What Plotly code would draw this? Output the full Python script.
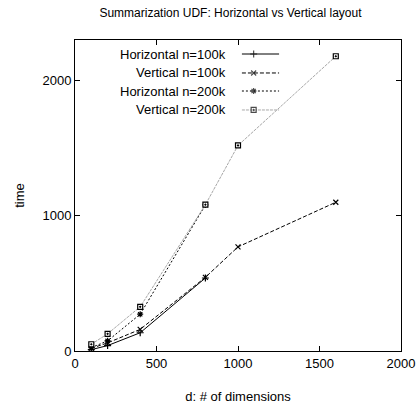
import plotly.graph_objects as go

# ---- data ----
d_short = [100, 200, 400, 800]
d_long = [100, 200, 400, 800, 1000, 1600]
horiz_100k = [10, 40, 135, 540]
vert_100k = [20, 60, 160, 545, 770, 1100]
horiz_200k = [25, 75, 272, 1080]
vert_200k = [50, 127, 327, 1082, 1520, 2180]

names = ["Horizontal n=100k", "Vertical n=100k", "Horizontal n=200k", "Vertical n=200k"]
xs = [d_short, d_long, d_short, d_long]
ys = [horiz_100k, vert_100k, horiz_200k, vert_200k]

styles = [
    dict(color="black", dash="solid", symbol="cross-thin-open", msize=5),
    dict(color="black", dash="4px,2px", symbol="x-thin-open", msize=5),
    dict(color="black", dash="2px,2px", symbol="asterisk-open", msize=5),
    dict(color="#a8a8a8", dash="3px,1px", symbol="square-dot", msize=5),
]

FONT = "Liberation Sans, Arial, sans-serif"

fig = go.Figure()
for name, x, y, s in zip(names, xs, ys, styles):
    fig.add_trace(go.Scatter(
        x=x, y=y, mode="lines+markers", name=name, showlegend=False,
        line=dict(color=s["color"], dash=s["dash"], width=1),
        marker=dict(symbol=s["symbol"], size=s["msize"], color="white" if "square" in s["symbol"] else "black",
                    line=dict(color="black", width=1.2)),
    ))

# ---- gnuplot-style key (text right-aligned, sample to the right) ----
key_text_x = 0.469
key_line = [0.512, 0.548, 0.626]
key_rows = [0.955, 0.894, 0.836, 0.775]
for name, s, ky in zip(names, styles, key_rows):
    fig.add_trace(go.Scatter(
        x=key_line, y=[ky] * 3, xaxis="x2", yaxis="y2", mode="lines+markers",
        showlegend=False, hoverinfo="skip",
        line=dict(color=s["color"], dash=s["dash"], width=1),
        marker=dict(symbol=s["symbol"], size=[0, s["msize"], 0],
                    color="white" if "square" in s["symbol"] else "black",
                    line=dict(color="black", width=[0, 1.2, 0])),
    ))
    fig.add_annotation(x=key_text_x, y=ky, xref="x2", yref="y2", text=name,
                       showarrow=False, xanchor="right", yanchor="middle",
                       font=dict(family=FONT, size=13, color="black"))

axis_common = dict(
    showgrid=False, zeroline=False, showline=True, linecolor="black", linewidth=1,
    mirror="ticks", ticks="inside", ticklen=5, tickcolor="black",
    tickfont=dict(family=FONT, size=13, color="black"), automargin=False,
)

fig.update_layout(
    width=419, height=411,
    margin=dict(l=75, r=18, t=40, b=60),
    paper_bgcolor="white", plot_bgcolor="white",
    title=dict(text="Summarization UDF: Horizontal vs Vertical layout",
               x=0.55, xanchor="center", y=0.968, yanchor="middle",
               font=dict(family=FONT, size=12, color="black")),
    xaxis=dict(range=[0, 2000], dtick=500, tick0=0,
               title=dict(text="d: # of dimensions", font=dict(family=FONT, size=13, color="black"), standoff=22),
               **axis_common),
    yaxis=dict(range=[0, 2300], tickvals=[0, 1000, 2000],
               title=dict(text="time", font=dict(family=FONT, size=13, color="black"), standoff=14),
               **axis_common),
    xaxis2=dict(overlaying="x", range=[0, 1], visible=False),
    yaxis2=dict(overlaying="y", range=[0, 1], visible=False),
)

fig.write_html("out.html")
